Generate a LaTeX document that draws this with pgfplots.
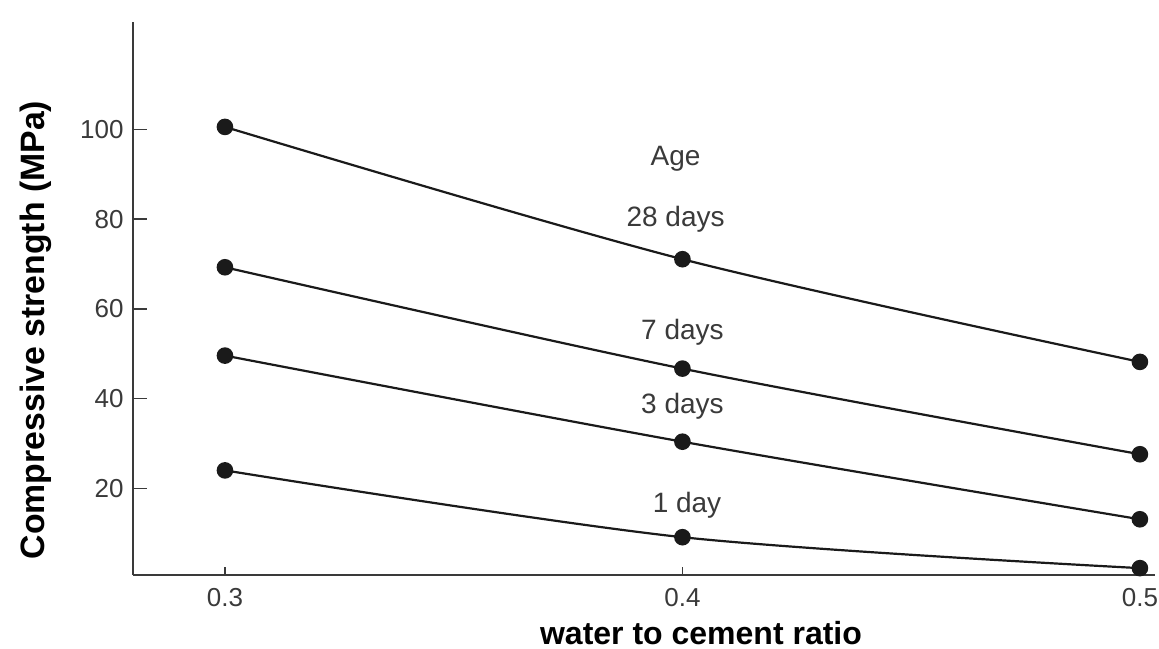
\documentclass[border=0pt]{standalone}
\usepackage{fontspec}
\setmainfont{Liberation Sans}
\usepackage{pgfplots}
\pgfplotsset{compat=1.18}
\definecolor{txt}{HTML}{3A3A3A}
\definecolor{ln}{HTML}{1A1A1A}
\begin{document}
\begin{tikzpicture}
\path[use as bounding box] (-66.5bp,-37bp) rectangle (513bp,287.5bp);
\begin{axis}[
  at={(0,0)}, anchor=south west,
  scale only axis,
  width=511bp, height=276.5bp,
  xmin=0.2799, xmax=0.5033,
  ymin=0.67, ymax=124,
  axis x line=bottom, axis y line=left,
  axis line style={draw=txt, line width=1bp, -},
  xtick={0.3,0.4,0.5},
  ytick={20,40,60,80,100},
  xticklabels={0.3,0.4,0.5},
  tick align=inside,
  major tick length=7bp,
  xtick style={draw=txt, line width=0.8bp, /pgfplots/major tick length=4bp},
  ytick style={draw=txt, line width=0.8bp},
  /pgf/number format/assume math mode=true,
  tick label style={font=\fontsize{13bp}{15bp}\selectfont, text=txt},
  yticklabel style={inner sep=0pt, anchor=east, xshift=-4.5bp},
  xticklabel style={inner sep=0pt, anchor=north, yshift=-6.5bp},
  clip=false,
]
\addplot[ln, line width=1.1bp, smooth, tension=0.5, mark=*, mark size=3.6bp, mark options={fill=ln, draw=ln}]
  coordinates {(0.3,100.6) (0.4,71.1) (0.5,48.2)};
\addplot[ln, line width=1.1bp, smooth, tension=0.5, mark=*, mark size=3.6bp, mark options={fill=ln, draw=ln}]
  coordinates {(0.3,69.3) (0.4,46.7) (0.5,27.6)};
\addplot[ln, line width=1.1bp, smooth, tension=0.5, mark=*, mark size=3.6bp, mark options={fill=ln, draw=ln}]
  coordinates {(0.3,49.6) (0.4,30.4) (0.5,13.1)};
\addplot[ln, line width=1.1bp, smooth, tension=0.5, mark=*, mark size=3.6bp, mark options={fill=ln, draw=ln}]
  coordinates {(0.3,24.0) (0.4,9.1) (0.5,2.2)};
\node[text=txt, font=\fontsize{14bp}{16bp}\selectfont] at (axis cs:0.3985,93.5) {Age};
\node[text=txt, font=\fontsize{14bp}{16bp}\selectfont] at (axis cs:0.3985,80) {28 days};
\node[text=txt, font=\fontsize{14bp}{16bp}\selectfont] at (axis cs:0.4,54.7) {7 days};
\node[text=txt, font=\fontsize{14bp}{16bp}\selectfont] at (axis cs:0.4,38.2) {3 days};
\node[text=txt, font=\fontsize{14bp}{16bp}\selectfont] at (axis cs:0.401,16.2) {1 day};
\end{axis}
\node[font=\bfseries\fontsize{16bp}{19bp}\selectfont] at (284bp,-29bp) {water to cement ratio};
\node[font=\bfseries\fontsize{16.9bp}{19bp}\selectfont, rotate=90] at (-48.5bp,122.5bp) {Compressive strength (MPa)};
\end{tikzpicture}
\end{document}
